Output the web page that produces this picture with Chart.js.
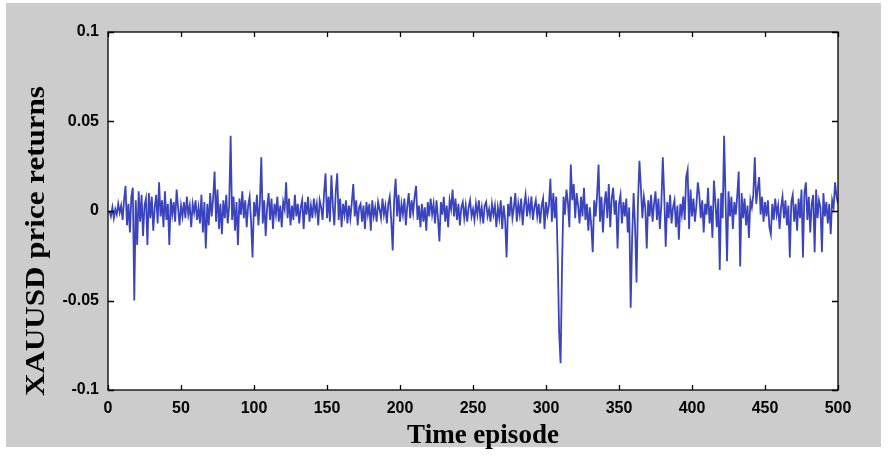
<!DOCTYPE html>
<html>
<head>
<meta charset="utf-8">
<script src="https://cdn.jsdelivr.net/npm/chart.js@4.4.1/dist/chart.umd.min.js"></script>
<style>
  html, body { margin: 0; padding: 0; background: #fff; }
  #wrap { position: relative; width: 889px; height: 455px; }
</style>
</head>
<body>
<div id="wrap"><canvas id="myChart" width="889" height="455"></canvas></div>
<script>
// XAUUSD price returns per time episode
const returns = [
  0.000, -0.003, 0.002, -0.004, 0.001, -0.002, 0.004, -0.001, 0.003, -0.005, 0.006, 0.014, -0.008, 0.004, -0.012, 0.008, 0.013, -0.050, 0.006, -0.019, 0.011, -0.006, 0.009, -0.014, 0.003,
  0.007, -0.019, 0.010, -0.004, 0.008, -0.011, 0.002, 0.009, -0.007, 0.016, -0.003, 0.006, -0.009, 0.011, -0.005, 0.004, -0.019, 0.007, -0.002, 0.005, -0.006, 0.012, 0.002, -0.008, 0.003,
  -0.003, 0.005, -0.004, 0.008, -0.002, 0.003, -0.009, 0.004, -0.001, 0.006, -0.005, 0.002, -0.007, 0.009, -0.012, 0.005, -0.021, 0.004, -0.008, 0.010, -0.003, 0.007, 0.022, -0.006, 0.012,
  -0.010, 0.004, -0.013, 0.006, -0.004, 0.009, -0.007, 0.003, 0.042, -0.005, 0.008, -0.011, 0.005, -0.019, 0.007, -0.002, 0.011, -0.004, 0.006, -0.009, 0.003, 0.008, -0.006, -0.026, 0.005,
  -0.003, 0.009, -0.008, 0.004, 0.030, -0.007, 0.006, -0.014, 0.002, 0.010, -0.005, 0.007, -0.010, 0.004, -0.002, 0.008, -0.006, 0.003, -0.009, 0.005, 0.001, 0.016, -0.004, 0.007, -0.008,
  0.003, -0.005, 0.009, -0.003, 0.004, -0.007, 0.002, 0.006, -0.010, 0.005, -0.002, 0.008, -0.006, 0.003, -0.004, 0.007, -0.001, 0.004, -0.008, 0.006, 0.002, -0.005, 0.010, 0.021, -0.004,
  0.008, -0.006, 0.020, 0.003, -0.008, 0.011, 0.021, -0.005, 0.007, -0.009, 0.004, -0.002, 0.006, -0.007, 0.003, -0.004, 0.005, 0.015, -0.003, 0.006, -0.008, 0.002, 0.004, -0.006, 0.003,
  -0.010, 0.005, -0.002, 0.004, -0.011, 0.006, -0.003, 0.002, -0.006, 0.005, 0.001, -0.004, 0.007, -0.002, 0.003, -0.007, 0.004, 0.008, -0.005, -0.022, 0.006, 0.018, -0.003, 0.009, -0.006,
  0.004, -0.002, 0.007, -0.008, 0.003, 0.010, -0.004, 0.006, -0.001, 0.008, 0.014, -0.005, 0.003, -0.009, 0.004, -0.006, 0.002, -0.011, 0.005, -0.003, 0.007, -0.002, 0.004, -0.007, 0.006,
  -0.004, -0.017, 0.005, -0.002, 0.008, -0.006, 0.003, -0.009, 0.006, 0.001, 0.012, -0.003, 0.007, -0.005, 0.004, -0.008, 0.002, 0.005, -0.004, 0.003, -0.006, 0.002, 0.006, -0.003, 0.001,
  -0.005, 0.004, -0.002, 0.006, -0.004, 0.002, -0.007, 0.003, 0.005, -0.003, 0.001, -0.006, 0.004, -0.002, 0.003, -0.009, 0.002, -0.004, 0.006, -0.010, 0.003, -0.005, -0.026, 0.004, -0.003,
  0.008, -0.004, 0.002, 0.010, -0.006, 0.004, -0.002, 0.007, -0.008, 0.003, 0.009, -0.003, 0.005, -0.001, 0.008, -0.005, 0.002, 0.006, -0.003, 0.004, -0.007, 0.003, 0.007, -0.010, 0.005,
  -0.002, 0.003, 0.018, -0.006, 0.010, -0.004, 0.008, -0.025, -0.068, -0.085, -0.030, 0.008, -0.002, 0.012, 0.005, -0.009, 0.026, 0.006, 0.015, -0.004, 0.010, 0.003, -0.007, 0.008, -0.003,
  0.013, -0.005, 0.004, -0.011, 0.002, -0.008, -0.023, 0.006, -0.003, 0.009, 0.026, -0.006, 0.008, -0.012, 0.004, 0.011, -0.004, 0.015, -0.009, 0.007, 0.013, -0.002, 0.006, -0.021, 0.004,
  0.009, -0.007, 0.005, -0.003, 0.007, -0.012, 0.002, -0.054, -0.015, 0.010, -0.008, -0.040, 0.005, 0.028, 0.013, -0.004, 0.008, 0.002, -0.021, 0.006, -0.003, 0.009, -0.006, 0.004, 0.011,
  -0.005, 0.007, -0.010, 0.004, 0.030, 0.008, -0.020, 0.005, -0.004, 0.009, -0.007, 0.002, 0.006, -0.009, 0.003, -0.016, 0.004, -0.002, 0.008, -0.005, 0.019, 0.023, -0.010, 0.012, -0.003,
  0.007, -0.006, 0.003, 0.016, 0.009, -0.004, 0.006, -0.012, 0.004, -0.002, 0.013, -0.007, 0.003, -0.015, 0.017, 0.005, -0.009, 0.007, -0.033, 0.010, -0.004, 0.042, 0.006, -0.028, 0.011,
  -0.003, 0.008, -0.010, 0.005, -0.002, 0.009, 0.022, -0.031, 0.010, -0.004, 0.007, -0.008, 0.003, -0.015, 0.006, 0.002, 0.009, 0.030, 0.004, 0.012, 0.019, -0.002, 0.008, -0.006, 0.005,
  -0.003, 0.006, -0.009, -0.013, 0.004, -0.005, 0.007, -0.002, 0.003, -0.010, 0.002, 0.008, -0.004, 0.006, -0.008, 0.003, -0.026, 0.005, 0.009, -0.006, 0.004, -0.011, 0.007, -0.004, 0.012,
  -0.026, 0.010, 0.016, -0.005, 0.008, -0.012, 0.004, 0.009, -0.023, 0.012, -0.004, 0.006, 0.002, -0.023, 0.010, -0.003, 0.005, -0.007, 0.004, -0.013, 0.006, 0.002, 0.016, 0.008, 0.004
];

// time episodes 1..500
const episodes = returns.map((_, i) => i + 1);

// tick values and labels
const xTicks = [0, 50, 100, 150, 200, 250, 300, 350, 400, 450, 500];
const yTicks = [-0.1, -0.05, 0, 0.05, 0.1];
const yTickLabels = ['-0.1', '-0.05', '0', '0.05', '0.1'];

const xTitle = 'Time episode';
const yTitle = 'XAUUSD price returns';

// MATLAB-like figure: gray background, white axes box, inward ticks, titles
const matlabFrame = {
  id: 'matlabFrame',
  beforeDraw(chart) {
    const c = chart.ctx;
    const a = chart.chartArea;
    c.save();
    c.fillStyle = '#ffffff';
    c.fillRect(0, 0, chart.width, chart.height);
    c.fillStyle = 'rgb(204,204,204)';
    c.fillRect(6, 3, 875, 444);
    c.fillStyle = '#ffffff';
    c.fillRect(a.left, a.top, a.right - a.left, a.bottom - a.top);
    c.restore();
  },
  afterDraw(chart) {
    const c = chart.ctx;
    const a = chart.chartArea;
    const xs = chart.scales.x;
    const ys = chart.scales.y;
    c.save();
    c.strokeStyle = '#000';
    c.lineWidth = 1.3;
    c.strokeRect(a.left, a.top, a.right - a.left, a.bottom - a.top);
    c.beginPath();
    xTicks.forEach(v => {
      const px = Math.round(xs.getPixelForValue(v)) + 0.5;
      c.moveTo(px, a.bottom); c.lineTo(px, a.bottom - 5);
      c.moveTo(px, a.top); c.lineTo(px, a.top + 5);
    });
    yTicks.forEach(v => {
      const py = Math.round(ys.getPixelForValue(v)) + 0.5;
      c.moveTo(a.left, py); c.lineTo(a.left + 6, py);
      c.moveTo(a.right, py); c.lineTo(a.right - 6, py);
    });
    c.stroke();

    c.fillStyle = '#000';
    c.font = 'bold 27px "Liberation Serif", "Times New Roman", serif';
    c.textAlign = 'center';
    c.textBaseline = 'middle';
    // x axis title
    c.fillText(xTitle, 483, 436);
    // y axis title, stretched a bit along its length like the original
    c.translate(37, 241);
    c.rotate(-Math.PI / 2);
    c.scale(1.15, 1);
    c.fillText(yTitle, 0, 0);
    c.restore();
  }
};

const ctx = document.getElementById('myChart').getContext('2d');
new Chart(ctx, {
  type: 'line',
  data: {
    labels: episodes,
    datasets: [{
      data: returns.map((v, i) => ({ x: episodes[i], y: v })),
      borderColor: 'rgb(58,68,190)',
      borderWidth: 1.8,
      pointRadius: 0,
      tension: 0,
      fill: false
    }]
  },
  options: {
    responsive: false,
    animation: false,
    layout: { padding: { top: 32, right: 51, left: 0, bottom: 0 } },
    plugins: {
      legend: { display: false },
      tooltip: { enabled: false }
    },
    scales: {
      x: {
        type: 'linear',
        min: 0,
        max: 500,
        afterFit: s => { s.height = 65; },
        afterBuildTicks: s => { s.ticks = xTicks.map(v => ({ value: v })); },
        grid: { display: false, drawTicks: false },
        border: { display: false },
        ticks: {
          padding: 9,
          color: '#000',
          maxRotation: 0,
          font: { family: '"Liberation Sans", Arial, sans-serif', size: 16, weight: 'bold' }
        }
      },
      y: {
        min: -0.1,
        max: 0.1,
        afterFit: s => { s.width = 108; },
        afterBuildTicks: s => { s.ticks = yTicks.map(v => ({ value: v })); },
        grid: { display: false, drawTicks: false },
        border: { display: false },
        ticks: {
          padding: 9,
          color: '#000',
          font: { family: '"Liberation Sans", Arial, sans-serif', size: 16, weight: 'bold' },
          callback: function(value) {
            const i = yTicks.findIndex(t => Math.abs(t - value) < 1e-9);
            return i >= 0 ? yTickLabels[i] : '';
          }
        }
      }
    }
  },
  plugins: [matlabFrame]
});
</script>
</body>
</html>
